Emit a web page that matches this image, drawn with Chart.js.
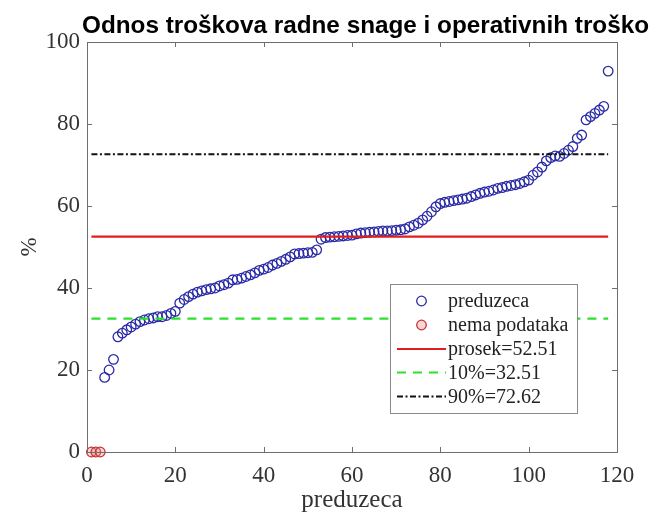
<!DOCTYPE html>
<html><head><meta charset="utf-8">
<script src="https://cdn.jsdelivr.net/npm/chart.js@4/dist/chart.umd.min.js"></script>
<style>html,body{margin:0;padding:0;background:#fff}#wrap{width:649px;height:515px;position:relative}</style>
</head><body><div id="wrap"><canvas id="c" width="649" height="515"></canvas></div>
<script>
const chartTitle = 'Odnos troškova radne snage i operativnih troškova';
const xAxisLabel = 'preduzeca';
const yAxisLabel = '%';
const xTicks = [0, 20, 40, 60, 80, 100, 120];
const yTicks = [0, 20, 40, 60, 80, 100];

// companies without data (index, value)
const missingIdx = [1, 2, 3];
const missingVals = [0, 0, 0];

// companies with data, sorted; first one is company #4
const firstCompany = 4;
const companyVals = [
  18.2, 20.0, 22.6, 28.1, 29.0, 29.8, 30.5, 31.2, 31.8, 32.2,
  32.5, 32.7, 33.0, 33.0, 33.3, 33.8, 34.3, 36.3, 37.2, 37.9,
  38.5, 39.0, 39.3, 39.6, 39.8, 40.0, 40.5, 40.8, 41.2, 42.0,
  42.1, 42.4, 42.8, 43.2, 43.7, 44.3, 44.6, 45.0, 45.6, 46.0,
  46.5, 47.0, 47.6, 48.3, 48.4, 48.5, 48.6, 48.7, 49.3, 51.9,
  52.3, 52.4, 52.5, 52.6, 52.7, 52.8, 52.9, 53.2, 53.4, 53.5,
  53.6, 53.7, 53.8, 53.9, 53.9, 54.0, 54.1, 54.2, 54.4, 54.9,
  55.3, 55.8, 56.6, 57.5, 58.6, 59.8, 60.6, 60.9, 61.1, 61.3,
  61.5, 61.7, 61.9, 62.3, 62.7, 63.1, 63.4, 63.6, 63.9, 64.3,
  64.5, 64.8, 65.0, 65.2, 65.5, 65.9, 66.3, 67.5, 68.3, 69.5,
  71.0, 71.8, 72.2, 72.1, 72.8, 73.6, 74.5, 76.5, 77.3, 81.0,
  81.8, 82.6, 83.4, 84.3, 92.9
];

const statLabels = ['prosek=52.51', '10%=32.51', '90%=72.62'];
const statValues = [52.51, 32.51, 72.62];
const statRange = [1, 118];

const serif = '"Liberation Serif", "Times New Roman", serif';

const hline = (v) => statRange.map(x => ({ x: x, y: v }));

const datasets = [
  { label: 'preduzeca', data: companyVals.map((v, i) => ({ x: i + firstCompany, y: v })),
    pointStyle: 'circle', pointRadius: 4.8, pointBorderWidth: 1.3, borderColor: '#2a2aa6',
    backgroundColor: 'rgba(0,0,0,0)', showLine: false, order: 2, clip: false, kind: 'marker' },
  { label: 'nema podataka', data: missingIdx.map((x, i) => ({ x: x, y: missingVals[i] })),
    pointStyle: 'circle', pointRadius: 4.8, pointBorderWidth: 1.3, borderColor: '#cc3333',
    backgroundColor: 'rgba(235,140,140,0.35)', showLine: false, order: 2, clip: false, kind: 'marker' },
  { label: statLabels[0], data: hline(statValues[0]), showLine: true, pointRadius: 0,
    borderColor: '#e01e1e', borderWidth: 2.2, order: 0, kind: 'line' },
  { label: statLabels[1], data: hline(statValues[1]), showLine: true, pointRadius: 0,
    borderColor: '#2ee02e', borderWidth: 2.2, borderDash: [9, 7], order: 0, kind: 'line' },
  { label: statLabels[2], data: hline(statValues[2]), showLine: true, pointRadius: 0,
    borderColor: '#111111', borderWidth: 2, borderDash: [6, 2.5, 2, 2.5], order: 0, kind: 'line' }
];

const frame = {
  id: 'frame',
  afterDraw(chart) {
    const { ctx, chartArea: a, scales: { x, y } } = chart;
    ctx.save();
    ctx.strokeStyle = '#6e6e6e';
    ctx.lineWidth = 1;
    ctx.strokeRect(Math.round(a.left) + 0.5, Math.round(a.top) + 0.5,
      Math.round(a.right - a.left), Math.round(a.bottom - a.top));
    const tl = 5;
    ctx.beginPath();
    x.ticks.forEach(t => {
      const px = Math.round(x.getPixelForValue(t.value)) + 0.5;
      ctx.moveTo(px, a.bottom); ctx.lineTo(px, a.bottom - tl);
      ctx.moveTo(px, a.top); ctx.lineTo(px, a.top + tl);
    });
    y.ticks.forEach(t => {
      const py = Math.round(y.getPixelForValue(t.value)) + 0.5;
      ctx.moveTo(a.left, py); ctx.lineTo(a.left + tl, py);
      ctx.moveTo(a.right, py); ctx.lineTo(a.right - tl, py);
    });
    ctx.stroke();

    // title
    ctx.font = 'bold 24.3px "Liberation Sans", Arial, sans-serif';
    ctx.fillStyle = '#000';
    ctx.textAlign = 'left';
    ctx.textBaseline = 'alphabetic';
    ctx.fillText(chartTitle, 82, 33);

    // legend
    const L = { x: 390, y: 284, w: 187, h: 129 };
    ctx.fillStyle = '#fff';
    ctx.fillRect(L.x, L.y, L.w, L.h);
    ctx.strokeStyle = '#8a8a8a';
    ctx.lineWidth = 1;
    ctx.strokeRect(L.x + 0.5, L.y + 0.5, L.w, L.h);
    const rows = [301, 325, 349, 372.5, 396.5];
    ctx.font = '20px ' + serif;
    ctx.textBaseline = 'middle';
    chart.data.datasets.forEach((ds, i) => {
      const ry = rows[i];
      ctx.save();
      if (ds.kind === 'marker') {
        ctx.beginPath();
        ctx.arc(421.5, ry, 4.8, 0, Math.PI * 2);
        ctx.fillStyle = ds.backgroundColor;
        ctx.fill();
        ctx.strokeStyle = ds.borderColor;
        ctx.lineWidth = ds.pointBorderWidth;
        ctx.stroke();
      } else {
        ctx.beginPath();
        ctx.setLineDash(ds.borderDash || []);
        ctx.strokeStyle = ds.borderColor;
        ctx.lineWidth = ds.borderWidth;
        ctx.moveTo(397, ry); ctx.lineTo(446, ry);
        ctx.stroke();
      }
      ctx.restore();
      ctx.fillStyle = '#222';
      ctx.textAlign = 'left';
      ctx.fillText(ds.label, 448, ry + 1);
    });
    ctx.restore();
  }
};

new Chart(document.getElementById('c'), {
  type: 'scatter',
  data: { datasets },
  options: {
    responsive: false,
    devicePixelRatio: 1,
    animation: false,
    layout: { padding: { left: 0, top: 42, right: 32, bottom: 0 } },
    plugins: { legend: { display: false }, tooltip: { enabled: false } },
    scales: {
      x: {
        type: 'linear', min: 0, max: 120,
        afterBuildTicks: s => { s.ticks = xTicks.map(v => ({ value: v })); },
        afterFit: s => { s.height = 63; },
        grid: { display: false, drawTicks: false },
        border: { display: false },
        ticks: { padding: 10, color: '#333', font: { family: serif, size: 23 } },
        title: { display: true, text: xAxisLabel, color: '#333', font: { family: serif, size: 25 }, padding: { top: 0, bottom: 0 } }
      },
      y: {
        type: 'linear', min: 0, max: 100,
        afterBuildTicks: s => { s.ticks = yTicks.map(v => ({ value: v })); },
        afterFit: s => { s.width = 87; },
        grid: { display: false, drawTicks: false },
        border: { display: false },
        ticks: { padding: 7, color: '#333', font: { family: serif, size: 23 } },
        title: { display: true, text: yAxisLabel, color: '#333', font: { family: serif, size: 23 }, padding: { top: 16, bottom: 0 } }
      }
    }
  },
  plugins: [frame]
});
</script></body></html>
